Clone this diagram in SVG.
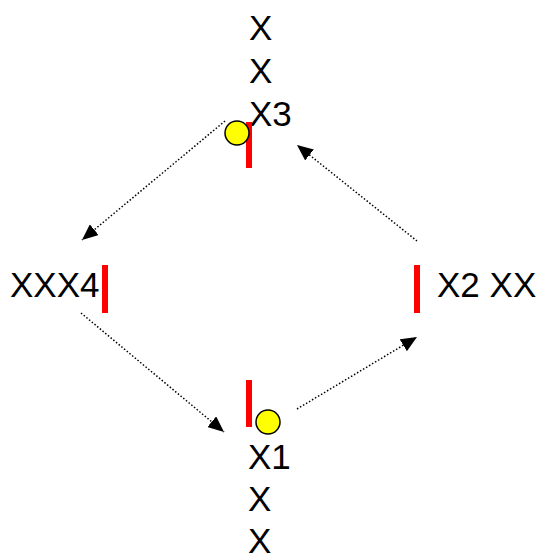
<svg xmlns="http://www.w3.org/2000/svg" width="544" height="554" viewBox="0 0 544 554">
<style>
.t{font-family:"Liberation Sans",Arial,sans-serif;font-size:35px;fill:#000}
.bar{fill:#ff0000}
.dot{fill:#ffff00;stroke:#000;stroke-width:1.5}
.c{fill:none;stroke:#000;stroke-width:1.5;stroke-dasharray:1.5 2}
</style>
<defs>
<marker id="ah" markerUnits="userSpaceOnUse" markerWidth="18" markerHeight="14" refX="16" refY="7" orient="auto">
<path d="M0,0 L16,7 L0,14 Z" fill="#000"/>
</marker>
</defs>
<rect width="544" height="554" fill="#fff"/>
<g id="connectors">
<line class="c" x1="225" y1="121" x2="82" y2="240" marker-end="url(#ah)"/>
<line class="c" x1="417" y1="241" x2="297" y2="145" marker-end="url(#ah)"/>
<line class="c" x1="81" y1="313" x2="224" y2="432" marker-end="url(#ah)"/>
<line class="c" x1="297" y1="409" x2="417" y2="337" marker-end="url(#ah)"/>
</g>
<g id="n3">
<text class="t" x="249" y="40">X</text>
<text class="t" x="249" y="83">X</text>
<text class="t" x="249" y="126">X3</text>
<rect class="bar" x="246" y="122" width="6" height="46"/>
<circle class="dot" cx="237" cy="133" r="12"/>
</g>
<g id="n4">
<text class="t" x="10" y="297">XXX4</text>
<rect class="bar" x="102" y="265" width="6" height="48"/>
</g>
<g id="n2">
<rect class="bar" x="414" y="265" width="6" height="48"/>
<text class="t" x="437" y="297">X2 XX</text>
</g>
<g id="n1">
<rect class="bar" x="246" y="380" width="6" height="47"/>
<circle class="dot" cx="268" cy="422" r="12"/>
<text class="t" x="248" y="469">X1</text>
<text class="t" x="248" y="511">X</text>
<text class="t" x="248" y="553">X</text>
</g>
</svg>
